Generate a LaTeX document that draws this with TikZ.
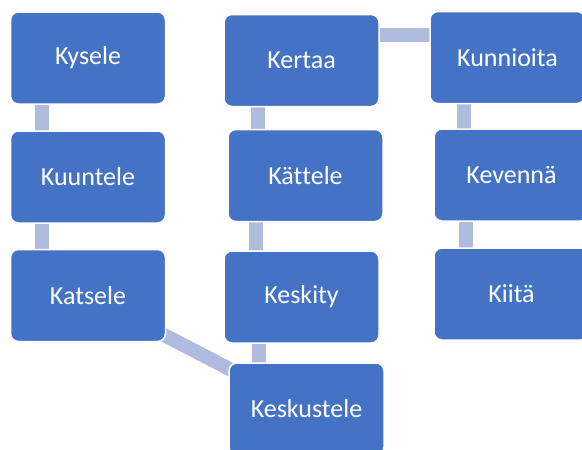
\documentclass[tikz,border=0pt]{standalone}
\usepackage{fontspec}
\setmainfont[Ligatures=NoCommon]{Carlito}
\usetikzlibrary{backgrounds}
\definecolor{boxblue}{RGB}{68,114,196}
\definecolor{linkblue}{RGB}{175,188,222}

\begin{document}
\begin{tikzpicture}[x=1pt,y=-1pt,
  kbox/.style={rectangle, rounded corners=8pt, fill=boxblue, draw=white, line width=1.5pt,
    minimum width=155pt, minimum height=92pt, inner sep=0pt, text=white,
    font=\fontsize{26}{30}\selectfont},
  link/.style={linkblue, line width=14pt}]
  \useasboundingbox (0,0) rectangle (582,450);
  % left column
  \node[kbox] (kysele) at (88,58) {Kysele};
  \node[kbox] (kuuntele) at (88,177) {Kuuntele};
  \node[kbox] (katsele) at (88,295.5) {Katsele};
  % middle column
  \node[kbox] (kertaa) at (301.5,60.5) {Kertaa};
  \node[kbox] (kattele) at (305.5,175.5) {Kät\kern0pt tele};
  \node[kbox] (keskity) at (301.5,297) {Keskity};
  \node[kbox] (keskustele) at (306.5,409) {Keskustele};
  % right column
  \node[kbox] (kunnioita) at (507.5,57.5) {Kunnioita};
  \node[kbox] (kevenna) at (511.5,175) {Kevennä};
  \node[kbox] (kiita) at (511.5,294) {Kiitä};

  \begin{scope}[on background layer]
   \draw[link] ([xshift=-46.5pt]kysele.center) -- ([xshift=-46.5pt]kysele.center |- kuuntele.center);
   \draw[link] ([xshift=-46.5pt]kuuntele.center) -- ([xshift=-46.5pt]kuuntele.center |- katsele.center);
   \draw[link] (katsele.center) -- (keskustele.center);
   \draw[link] ([xshift=-42.5pt]keskity.center) -- ([xshift=-42.5pt]keskity.center |- keskustele.center);
   \draw[link] ([xshift=-49.5pt]kattele.center) -- ([xshift=-49.5pt]kattele.center |- keskity.center);
   \draw[link] ([xshift=-44pt]kertaa.center) -- ([xshift=-44pt]kertaa.center |- kattele.center);
   \draw[link] ([yshift=25.5pt]kertaa.center) -- ([yshift=25.5pt]kertaa.center -| kunnioita.center);
   \draw[link] ([xshift=-43.5pt]kunnioita.center) -- ([xshift=-43.5pt]kunnioita.center |- kevenna.center);
   \draw[link] ([xshift=-46pt]kevenna.center) -- ([xshift=-46pt]kevenna.center |- kiita.center);
  \end{scope}
\end{tikzpicture}
\end{document}
